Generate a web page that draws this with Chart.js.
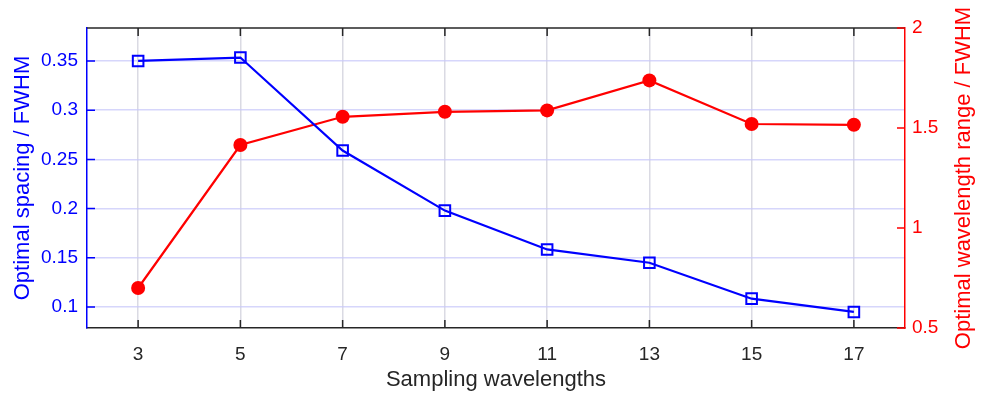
<!DOCTYPE html>
<html>
<head>
<meta charset="utf-8">
<script src="https://cdn.jsdelivr.net/npm/chart.js@4/dist/chart.umd.min.js"></script>
<style>
  html, body { margin: 0; padding: 0; background: #ffffff; }
  #wrap { width: 983px; height: 395px; }
</style>
</head>
<body>
<div id="wrap"><canvas id="c" width="983" height="395"></canvas></div>
<script>
// ---- data ----
const samplingWavelengths = [3, 5, 7, 9, 11, 13, 15, 17];
const optimalSpacing = [0.350, 0.3535, 0.259, 0.198, 0.1585, 0.145, 0.1085, 0.095];
const optimalRange = [0.70, 1.415, 1.556, 1.581, 1.588, 1.738, 1.520, 1.516];
const xTickValues = [3, 5, 7, 9, 11, 13, 15, 17];
const leftTickValues = [0.1, 0.15, 0.2, 0.25, 0.3, 0.35];
const rightTickValues = [0.5, 1, 1.5, 2];

const FONT = '"Liberation Sans", Arial, Helvetica, sans-serif';
const BLUE = '#0000ff';
const RED = '#ff0000';
const DARK = '#262626';

function pts(xs, ys) { return xs.map((x, i) => ({ x: x, y: ys[i] })); }
function fmt(v) { return String(+v.toFixed(3)); }

const innerTicks = {
  id: 'innerTicks',
  afterDraw(chart) {
    const { ctx, chartArea: a, scales } = chart;
    const L = 8;
    ctx.save();
    ctx.lineWidth = 1.5;
    ctx.strokeStyle = DARK;
    ctx.beginPath();
    ctx.moveTo(a.left, a.top);
    ctx.lineTo(a.right, a.top);
    ctx.stroke();
    ctx.beginPath();
    xTickValues.forEach(v => {
      const px = scales.x.getPixelForValue(v);
      ctx.moveTo(px, a.bottom); ctx.lineTo(px, a.bottom - L);
      ctx.moveTo(px, a.top); ctx.lineTo(px, a.top + L);
    });
    ctx.stroke();
    ctx.strokeStyle = BLUE;
    ctx.beginPath();
    leftTickValues.forEach(v => {
      const py = scales.y.getPixelForValue(v);
      ctx.moveTo(a.left, py); ctx.lineTo(a.left + L, py);
    });
    ctx.stroke();
    ctx.strokeStyle = RED;
    ctx.beginPath();
    rightTickValues.forEach(v => {
      const py = scales.y2.getPixelForValue(v);
      ctx.moveTo(a.right, py); ctx.lineTo(a.right - L, py);
    });
    ctx.stroke();
    ctx.fillStyle = RED;
    ctx.font = '22px ' + FONT;
    ctx.textAlign = 'center';
    ctx.textBaseline = 'middle';
    ctx.translate(964, (a.top + a.bottom) / 2);
    ctx.rotate(-Math.PI / 2);
    ctx.fillText('Optimal wavelength range / FWHM', 0, 0);
    ctx.restore();
  }
};

new Chart(document.getElementById('c'), {
  type: 'line',
  data: {
    datasets: [
      {
        label: 'Optimal spacing / FWHM',
        data: pts(samplingWavelengths, optimalSpacing),
        yAxisID: 'y',
        borderColor: BLUE,
        borderWidth: 2.2,
        backgroundColor: 'rgba(0,0,0,0)',
        pointStyle: 'rect',
        pointRadius: 7.5,
        pointBorderWidth: 2,
        pointBorderColor: BLUE,
        pointBackgroundColor: 'rgba(0,0,0,0)',
        tension: 0
      },
      {
        label: 'Optimal wavelength range / FWHM',
        data: pts(samplingWavelengths, optimalRange),
        yAxisID: 'y2',
        borderColor: RED,
        borderWidth: 2.2,
        backgroundColor: RED,
        pointStyle: 'circle',
        pointRadius: 7,
        pointBorderWidth: 0,
        pointBackgroundColor: RED,
        tension: 0
      }
    ]
  },
  options: {
    responsive: false,
    animation: false,
    events: [],
    layout: { padding: { top: 28, left: 0, right: 0, bottom: 0 } },
    plugins: { legend: { display: false }, tooltip: { enabled: false } },
    scales: {
      x: {
        type: 'linear',
        min: 2, max: 18,
        afterBuildTicks(s) { s.ticks = xTickValues.map(v => ({ value: v })); },
        afterFit(s) { s.height = 67; },
        grid: { color: 'rgba(205,205,218,0.75)', lineWidth: 1.5, drawTicks: false },
        border: { display: true, color: DARK, width: 1.5 },
        ticks: { color: DARK, font: { family: FONT, size: 19 }, padding: 15, callback: v => fmt(v) },
        title: { display: true, text: 'Sampling wavelengths', color: DARK,
                 font: { family: FONT, size: 22 }, padding: { top: 0, bottom: 2 } }
      },
      y: {
        position: 'left',
        min: 0.0787, max: 0.3835,
        afterBuildTicks(s) { s.ticks = leftTickValues.map(v => ({ value: v })); },
        afterFit(s) { s.width = 87; },
        grid: { color: 'rgba(200,200,250,0.75)', lineWidth: 1.5, drawTicks: false },
        border: { display: true, color: BLUE, width: 1.5 },
        ticks: { color: BLUE, font: { family: FONT, size: 19 }, padding: 9, callback: v => fmt(v) },
        title: { display: true, text: 'Optimal spacing / FWHM', color: BLUE,
                 font: { family: FONT, size: 22 }, padding: { top: 10, bottom: 0 } }
      },
      y2: {
        position: 'right',
        min: 0.5, max: 2,
        afterBuildTicks(s) { s.ticks = rightTickValues.map(v => ({ value: v })); },
        afterFit(s) { s.width = 78; },
        grid: { drawOnChartArea: false, drawTicks: false },
        border: { display: true, color: RED, width: 1.5 },
        ticks: { color: RED, font: { family: FONT, size: 19 }, padding: 7, callback: v => fmt(v) }
      }
    }
  },
  plugins: [innerTicks]
});
</script>
</body>
</html>
